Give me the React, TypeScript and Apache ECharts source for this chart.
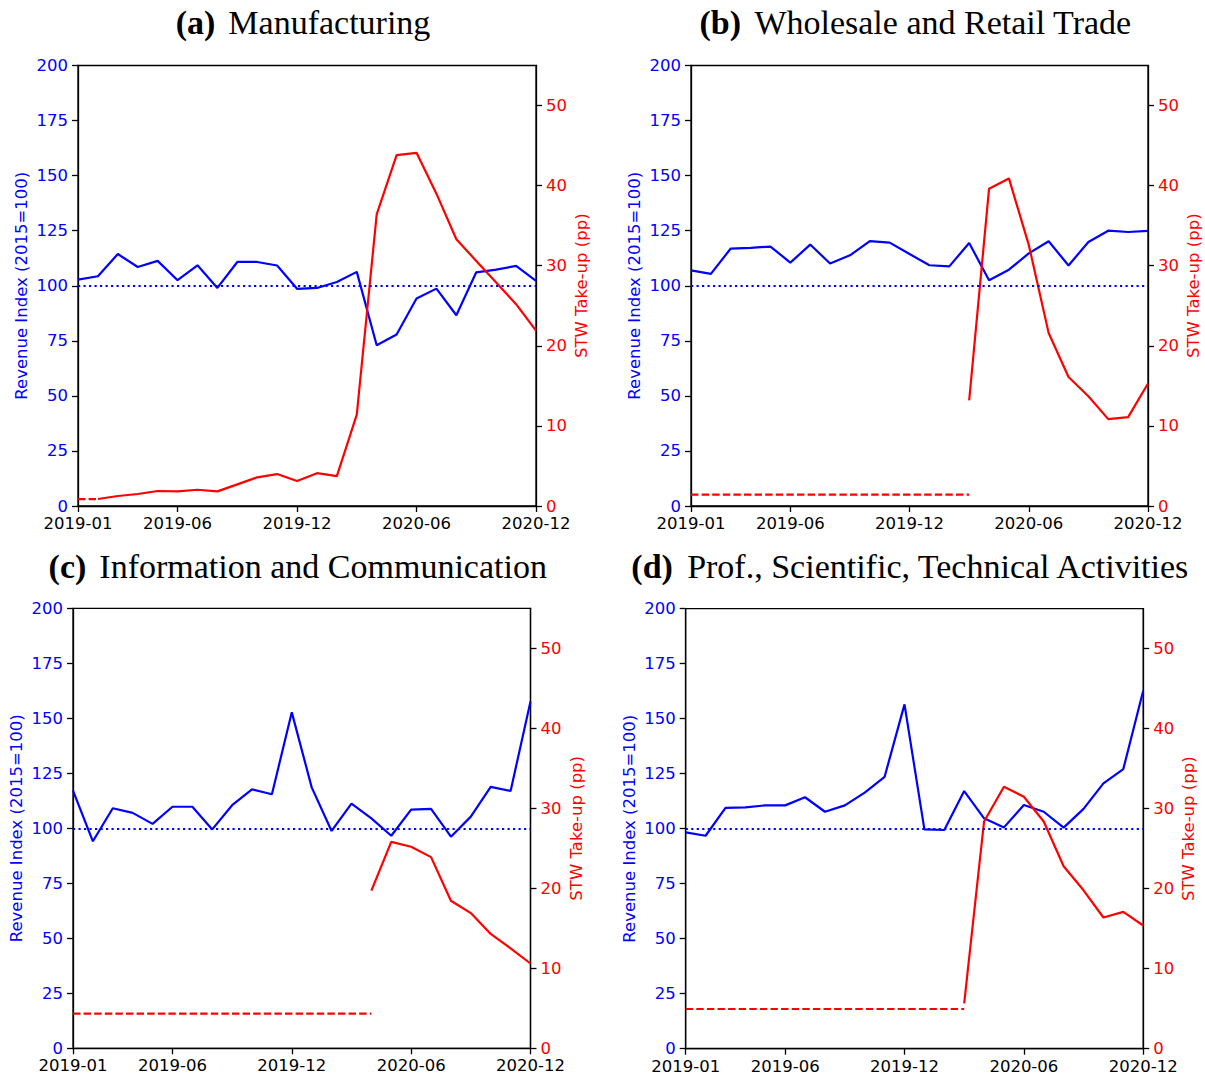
import React, { useEffect, useRef } from "react";
import * as echarts from "echarts";

const months = [
  "2019-01", "2019-02", "2019-03", "2019-04", "2019-05", "2019-06",
  "2019-07", "2019-08", "2019-09", "2019-10", "2019-11", "2019-12",
  "2020-01", "2020-02", "2020-03", "2020-04", "2020-05", "2020-06",
  "2020-07", "2020-08", "2020-09", "2020-10", "2020-11", "2020-12",
];
const xTickLabels = ["2019-01", "2019-06", "2019-12", "2020-06", "2020-12"];
const revenueTicks = [0, 25, 50, 75, 100, 125, 150, 175, 200];
const stwTicks = [0, 10, 20, 30, 40, 50];
const baseline = 100;

// (a) Manufacturing
const manuRevenue = [102.8, 104.3, 114.4, 108.5, 111.3, 102.5, 109.3, 99.0, 110.8, 110.8, 109.2, 98.6, 99.0, 101.7, 106.3, 73.0, 77.9, 94.2, 98.7, 86.6, 106.1, 107.3, 109.0, 102.2];
const manuStw = [null, 0.87, 1.25, 1.5, 1.87, 1.83, 2.03, 1.83, 2.7, 3.58, 3.99, 3.12, 4.1, 3.74, 11.4, 36.4, 43.8, 44.1, 39.0, 33.3, 30.6, 27.9, 25.2, 21.9];
const manuStwPre = [0.87, 0.87, null, null, null, null, null, null, null, null, null, null, null, null, null, null, null, null, null, null, null, null, null, null];

// (b) Wholesale and Retail Trade
const tradeRevenue = [107.0, 105.4, 116.9, 117.2, 117.8, 110.5, 118.7, 110.1, 113.8, 120.3, 119.6, 114.4, 109.3, 108.8, 119.4, 102.5, 107.3, 114.7, 120.2, 109.2, 119.9, 125.0, 124.4, 124.9];
const tradeStw = [null, null, null, null, null, null, null, null, null, null, null, null, null, null, 13.2, 39.6, 40.9, 32.6, 21.6, 16.1, 13.7, 10.85, 11.1, 15.3];
const tradeStwPre = [1.41, 1.41, 1.41, 1.41, 1.41, 1.41, 1.41, 1.41, 1.41, 1.41, 1.41, 1.41, 1.41, 1.41, 1.41, null, null, null, null, null, null, null, null, null];

// (c) Information and Communication
const infoRevenue = [117.1, 94.1, 109.1, 107.0, 102.0, 109.8, 109.8, 99.5, 110.5, 117.7, 115.5, 152.7, 118.6, 98.8, 111.2, 104.5, 96.6, 108.5, 108.8, 96.2, 105.3, 118.8, 117.0, 157.6];
const infoStw = [null, null, null, null, null, null, null, null, null, null, null, null, null, null, null, 19.7, 25.8, 25.2, 23.9, 18.45, 16.9, 14.3, 12.5, 10.6];
const infoStwPre = [4.33, 4.33, 4.33, 4.33, 4.33, 4.33, 4.33, 4.33, 4.33, 4.33, 4.33, 4.33, 4.33, 4.33, 4.33, 4.33, null, null, null, null, null, null, null, null];

// (d) Prof., Scientific, Technical Activities
const profRevenue = [98.3, 96.8, 109.5, 109.7, 110.6, 110.6, 114.3, 107.7, 110.6, 116.4, 123.6, 156.5, 99.7, 99.4, 117.1, 104.7, 100.6, 110.8, 107.7, 100.5, 109.0, 120.6, 127.1, 162.7];
const profStw = [null, null, null, null, null, null, null, null, null, null, null, null, null, null, 5.67, 28.4, 32.75, 31.5, 28.4, 22.8, 19.8, 16.4, 17.1, 15.4];
const profStwPre = [4.96, 4.96, 4.96, 4.96, 4.96, 4.96, 4.96, 4.96, 4.96, 4.96, 4.96, 4.96, 4.96, 4.96, 4.96, null, null, null, null, null, null, null, null, null];

const panelTags = ["(a)", "(b)", "(c)", "(d)"];
const panelNames = ["Manufacturing", "Wholesale and Retail Trade", "Information and Communication", "Prof., Scientific, Technical Activities"];
const revenueSeries = [manuRevenue, tradeRevenue, infoRevenue, profRevenue];
const stwSeries = [manuStw, tradeStw, infoStw, profStw];
const stwPreSeries = [manuStwPre, tradeStwPre, infoStwPre, profStwPre];

const grids = [
  { left: 78, top: 65.5, width: 458, height: 440.5, titleY: 22 },
  { left: 691, top: 65.5, width: 457, height: 440.5, titleY: 22 },
  { left: 73, top: 608.3, width: 457.5, height: 440, titleY: 566 },
  { left: 685.7, top: 608.7, width: 457.5, height: 440, titleY: 566 },
];

const SANS = "DejaVu Sans";
const SERIF = "Liberation Serif";
const BLUE = "#0000ff";
const RED = "#ff0000";

export default function App() {
  const ref = useRef<HTMLDivElement>(null);
  useEffect(() => {
    document.body.style.margin = "0";
    const chart = echarts.init(ref.current!, null, { renderer: "svg" });
    const showTick = (_i: number, v: string) => xTickLabels.includes(v);

    const option: any = {
      animation: false,
      textStyle: { fontFamily: SANS },
      grid: grids.map((g) => ({
        left: g.left, top: g.top, width: g.width, height: g.height,
        show: true, borderColor: "#000", borderWidth: 1.3, backgroundColor: "transparent",
      })),
      xAxis: grids.map((_, k) => ({
        type: "category", gridIndex: k, data: months, boundaryGap: false,
        axisLine: { lineStyle: { color: "#000", width: 1.3 } },
        axisTick: { interval: showTick, length: 6, lineStyle: { color: "#000", width: 1.3 } },
        axisLabel: { interval: showTick, color: "#000", fontSize: 16.5, fontFamily: SANS, margin: 9 },
        splitLine: { show: false },
      })),
      yAxis: grids.flatMap((_, k) => [
        {
          type: "value", gridIndex: k, position: "left", min: 0, max: 200,
          name: "Revenue Index (2015=100)", nameLocation: "middle", nameGap: 48, nameRotate: 90,
          nameTextStyle: { color: BLUE, fontSize: 16.5, fontFamily: SANS },
          axisLine: { show: true, lineStyle: { color: "#000", width: 1.3 } },
          axisTick: { show: true, customValues: revenueTicks, length: 6, lineStyle: { color: "#000", width: 1.3 } },
          axisLabel: { customValues: revenueTicks, color: BLUE, fontSize: 16.5, fontFamily: SANS, margin: 10 },
          splitLine: { show: false },
        },
        {
          type: "value", gridIndex: k, position: "right", min: 0, max: 55,
          name: "STW Take-up (pp)", nameLocation: "middle", nameGap: 37, nameRotate: 90,
          nameTextStyle: { color: RED, fontSize: 16.5, fontFamily: SANS },
          axisLine: { show: true, lineStyle: { color: "#000", width: 1.3 } },
          axisTick: { show: true, customValues: stwTicks, length: 6, lineStyle: { color: "#000", width: 1.3 } },
          axisLabel: { customValues: stwTicks, color: RED, fontSize: 16.5, fontFamily: SANS, margin: 10 },
          splitLine: { show: false },
        },
      ]),
      series: grids.flatMap((_, k) => [
        {
          type: "line", xAxisIndex: k, yAxisIndex: 2 * k, data: revenueSeries[k],
          showSymbol: false, symbol: "none", z: 2,
          lineStyle: { color: BLUE, width: 2.2 },
          markLine: {
            silent: true, symbol: ["none", "none"], label: { show: false },
            lineStyle: { color: BLUE, width: 2.2, type: [2.2, 3.3] },
            data: [{ yAxis: baseline }],
          },
        },
        {
          type: "line", xAxisIndex: k, yAxisIndex: 2 * k + 1, data: stwSeries[k],
          showSymbol: false, symbol: "none", z: 3, connectNulls: false,
          lineStyle: { color: RED, width: 2.2 },
        },
        {
          type: "line", xAxisIndex: k, yAxisIndex: 2 * k + 1, data: stwPreSeries[k],
          showSymbol: false, symbol: "none", z: 3, connectNulls: false,
          lineStyle: { color: RED, width: 2.2, type: [7.4, 3.2] },
        },
      ]),
      graphic: grids.map((g, k) => ({
        type: "text",
        x: g.left + g.width / 2 - 4,
        y: g.titleY,
        style: {
          text: `{b|${panelTags[k]}}{n|${panelNames[k]}}`,
          textAlign: "center",
          textVerticalAlign: "middle",
          rich: {
            b: { fontFamily: SERIF, fontSize: 34, fontWeight: "bold", fill: "#000", padding: [0, 13, 0, 0] },
            n: { fontFamily: SERIF, fontSize: 34, fill: "#000" },
          },
        },
      })),
    };
    chart.setOption(option);
    return () => chart.dispose();
  }, []);
  return <div ref={ref} style={{ width: 1205, height: 1078 }} />;
}
